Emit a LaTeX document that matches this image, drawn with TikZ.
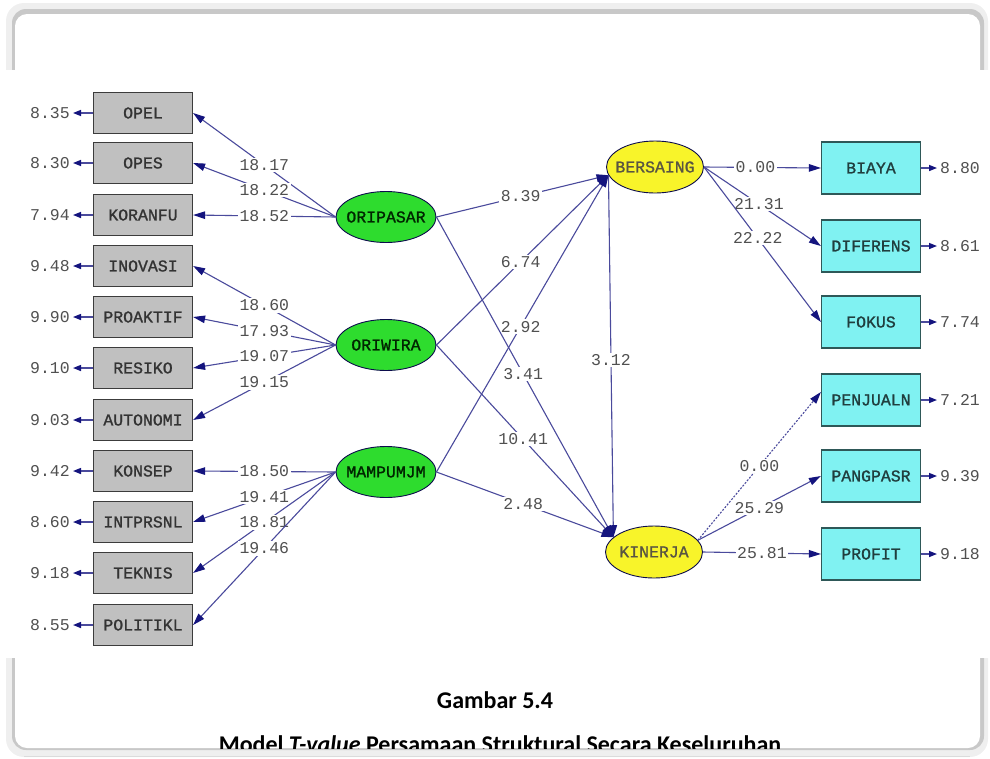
\documentclass[tikz,border=0pt]{standalone}
\usepackage{fontspec}
\usetikzlibrary{arrows.meta,shapes.geometric}
\newfontfamily\lisfont{Liberation Mono}
\newfontfamily\lisheavy[FakeBold=1.2]{Liberation Mono}
\newfontfamily\capfont{Carlito}
\definecolor{frameLight}{HTML}{EFEFEF}
\definecolor{frameDark}{HTML}{C8C8C8}
\definecolor{pathC}{HTML}{4A4A9C}
\definecolor{headC}{HTML}{14147E}
\definecolor{numC}{HTML}{505050}
\definecolor{grayFill}{HTML}{C0C0C0}
\definecolor{grayLine}{HTML}{3C3C3C}
\definecolor{cyanFill}{HTML}{80F2F2}
\definecolor{cyanLine}{HTML}{2E5858}
\definecolor{greenFill}{HTML}{2EDC2E}
\definecolor{yellowFill}{HTML}{F8F42A}
\begin{document}
\begin{tikzpicture}[x=1pt,y=-1pt,
  every node/.style={font=\lisfont\fontsize{16.5}{18}\selectfont},
  obsgray/.style={draw=grayLine,fill=grayFill,line width=1.2pt,minimum width=99pt,
    minimum height=41pt,inner sep=0pt,text=black!80,font=\lisheavy\fontsize{16.5}{18}\selectfont},
  obscyan/.style={draw=cyanLine,fill=cyanFill,line width=1.2pt,minimum width=99pt,
    minimum height=52pt,inner sep=0pt,text=cyanLine!70!black,font=\lisheavy\fontsize{16.5}{18}\selectfont},
  latgreen/.style={ellipse,draw=headC!60!black,fill=greenFill,line width=0.9pt,
    minimum width=100pt,minimum height=51pt,inner sep=0pt,text=green!15!black,
    font=\lisheavy\fontsize{16.5}{18}\selectfont},
  latyellow/.style={ellipse,draw=headC!60!black,fill=yellowFill,line width=0.9pt,
    minimum width=97pt,minimum height=52pt,inner sep=0pt,text=yellow!25!black,
    font=\lisheavy\fontsize{16.5}{18}\selectfont},
  errnum/.style={text=numC,inner sep=3pt},
  lbl/.style={fill=white,text=numC,inner sep=1.5pt},
  link/.style={draw=pathC,line width=1.1pt,-{Triangle[length=12pt,width=7.5pt,color=headC]}},
  errlink/.style={draw=pathC,line width=1.4pt,-{Triangle[length=8pt,width=6pt,color=headC]}}
]
\useasboundingbox (0,0) rectangle (990,758);

% page frame with rounded corners
\fill[frameLight,rounded corners=18pt] (6,3) rectangle (988,757);
\fill[frameDark,rounded corners=14pt] (12,9) rectangle (984,750);
\fill[white,rounded corners=12pt] (15,14) rectangle (980,748);
\draw[black!14,line width=1pt] (24,756) -- (970,756);

% diagram canvas
\fill[white] (0,70) rectangle (990,658);

% indicator boxes, left
\node[obsgray] (OPEL)     at (143,113) {OPEL};
\node[obsgray] (OPES)     at (143,163) {OPES};
\node[obsgray] (KORANFU)  at (143,215) {KORANFU};
\node[obsgray] (INOVASI)  at (143,266) {INOVASI};
\node[obsgray] (PROAKTIF) at (143,317) {PROAKTIF};
\node[obsgray] (RESIKO)   at (143,368) {RESIKO};
\node[obsgray] (AUTONOMI) at (143,420) {AUTONOMI};
\node[obsgray] (KONSEP)   at (143,471) {KONSEP};
\node[obsgray] (INTPRSNL) at (143,522) {INTPRSNL};
\node[obsgray] (TEKNIS)   at (143,573) {TEKNIS};
\node[obsgray] (POLITIKL) at (143,625) {POLITIKL};

% error terms, left
\node[errnum] (eOPEL)     at (50,113) {8.35};
\node[errnum] (eOPES)     at (50,163) {8.30};
\node[errnum] (eKORANFU)  at (50,215) {7.94};
\node[errnum] (eINOVASI)  at (50,266) {9.48};
\node[errnum] (ePROAKTIF) at (50,317) {9.90};
\node[errnum] (eRESIKO)   at (50,368) {9.10};
\node[errnum] (eAUTONOMI) at (50,420) {9.03};
\node[errnum] (eKONSEP)   at (50,471) {9.42};
\node[errnum] (eINTPRSNL) at (50,522) {8.60};
\node[errnum] (eTEKNIS)   at (50,573) {9.18};
\node[errnum] (ePOLITIKL) at (50,625) {8.55};
\foreach \b in {OPEL,OPES,KORANFU,INOVASI,PROAKTIF,RESIKO,AUTONOMI,KONSEP,INTPRSNL,TEKNIS,POLITIKL}
  \draw[errlink] (\b.west) -- (e\b.east);

% latent variables
\node[latgreen] (ORIPASAR) at (386,217) {\makebox[0pt]{ORIPASAR}};
\node[latgreen] (ORIWIRA)  at (386,345) {\makebox[0pt]{ORIWIRA}};
\node[latgreen] (MAMPUMJM) at (386,472) {\makebox[0pt]{MAMPUMJM}};
\node[latyellow] (BERSAING) at (655,167) {\makebox[0pt]{BERSAING}};
\node[latyellow] (KINERJA)  at (654,552) {\makebox[0pt]{KINERJA}};

% indicator boxes, right
\node[obscyan] (BIAYA)    at (871,168) {BIAYA};
\node[obscyan] (DIFERENS) at (871,246) {DIFERENS};
\node[obscyan] (FOKUS)    at (871,322) {FOKUS};
\node[obscyan] (PENJUALN) at (871,400) {PENJUALN};
\node[obscyan] (PANGPASR) at (871,476) {PANGPASR};
\node[obscyan] (PROFIT)   at (871,554) {PROFIT};

% error terms, right
\node[errnum] (eBIAYA)    at (960,168) {8.80};
\node[errnum] (eDIFERENS) at (960,246) {8.61};
\node[errnum] (eFOKUS)    at (960,322) {7.74};
\node[errnum] (ePENJUALN) at (960,400) {7.21};
\node[errnum] (ePANGPASR) at (960,476) {9.39};
\node[errnum] (ePROFIT)   at (960,554) {9.18};
\foreach \b in {BIAYA,DIFERENS,FOKUS,PENJUALN,PANGPASR,PROFIT}
  \draw[errlink] (\b.east) -- (e\b.west);

% loadings of the exogenous constructs
\draw[link] (ORIPASAR.west) -- node[lbl]{18.17} (OPEL.east);
\draw[link] (ORIPASAR.west) -- node[lbl]{18.22} (OPES.east);
\draw[link] (ORIPASAR.west) -- node[lbl]{18.52} (KORANFU.east);

\draw[link] (ORIWIRA.west) -- node[lbl]{18.60} (INOVASI.east);
\draw[link] (ORIWIRA.west) -- node[lbl]{17.93} (PROAKTIF.east);
\draw[link] (ORIWIRA.west) -- node[lbl]{19.07} (RESIKO.east);
\draw[link] (ORIWIRA.west) -- node[lbl]{19.15} (AUTONOMI.east);

\draw[link] (MAMPUMJM.west) -- node[lbl]{18.50} (KONSEP.east);
\draw[link] (MAMPUMJM.west) -- node[lbl]{19.41} (INTPRSNL.east);
\draw[link] (MAMPUMJM.west) -- node[lbl]{18.81} (TEKNIS.east);
\draw[link] (MAMPUMJM.west) -- node[lbl]{19.46} (POLITIKL.east);

% structural paths
\draw[link] (ORIPASAR.east) -- node[lbl,pos=0.49]{8.39} (BERSAING.190);
\draw[link] (ORIWIRA.east)  -- node[lbl,pos=0.49]{6.74} (BERSAING.190);
\draw[link] (MAMPUMJM.east) -- node[lbl,pos=0.49]{2.92} (BERSAING.190);
\draw[link] (ORIPASAR.east) -- node[lbl,pos=0.49]{3.41} (KINERJA.160);
\draw[link] (ORIWIRA.east)  -- node[lbl,pos=0.49]{10.41} (KINERJA.160);
\draw[link] (MAMPUMJM.east) -- node[lbl,pos=0.49]{2.48} (KINERJA.160);
\draw[link] (BERSAING.190)  -- node[lbl,pos=0.51]{3.12} (KINERJA.160);

% loadings of the endogenous constructs
\draw[link] (BERSAING.east) -- node[lbl,pos=0.44]{0.00} (BIAYA.west);
\draw[link] (BERSAING.east) -- node[lbl,pos=0.47]{21.31} (DIFERENS.west);
\draw[link] (BERSAING.east) -- node[lbl,pos=0.46]{22.22} (FOKUS.west);
\draw[link,dash pattern=on 2pt off 1.5pt] (KINERJA.15) -- node[lbl,pos=0.5]{0.00} ([yshift=8pt]PENJUALN.west);
\draw[link] (KINERJA.15) -- node[lbl,pos=0.5]{25.29} (PANGPASR.west);
\draw[link] (KINERJA.east) -- node[lbl,pos=0.5]{25.81} (PROFIT.west);

% caption
\begin{scope}
  \clip (0,660) rectangle (990,748);
  \node[font=\capfont\bfseries\fontsize{24}{28}\selectfont] (cap1) at (495,700) {Gambar 5.4};
  \node[font=\capfont\bfseries\fontsize{24}{28}\selectfont] (cap2) at (500,744)
    {Model \textit{T-value} Persamaan Struktural Secara Keseluruhan};
\end{scope}
\end{tikzpicture}
\end{document}
